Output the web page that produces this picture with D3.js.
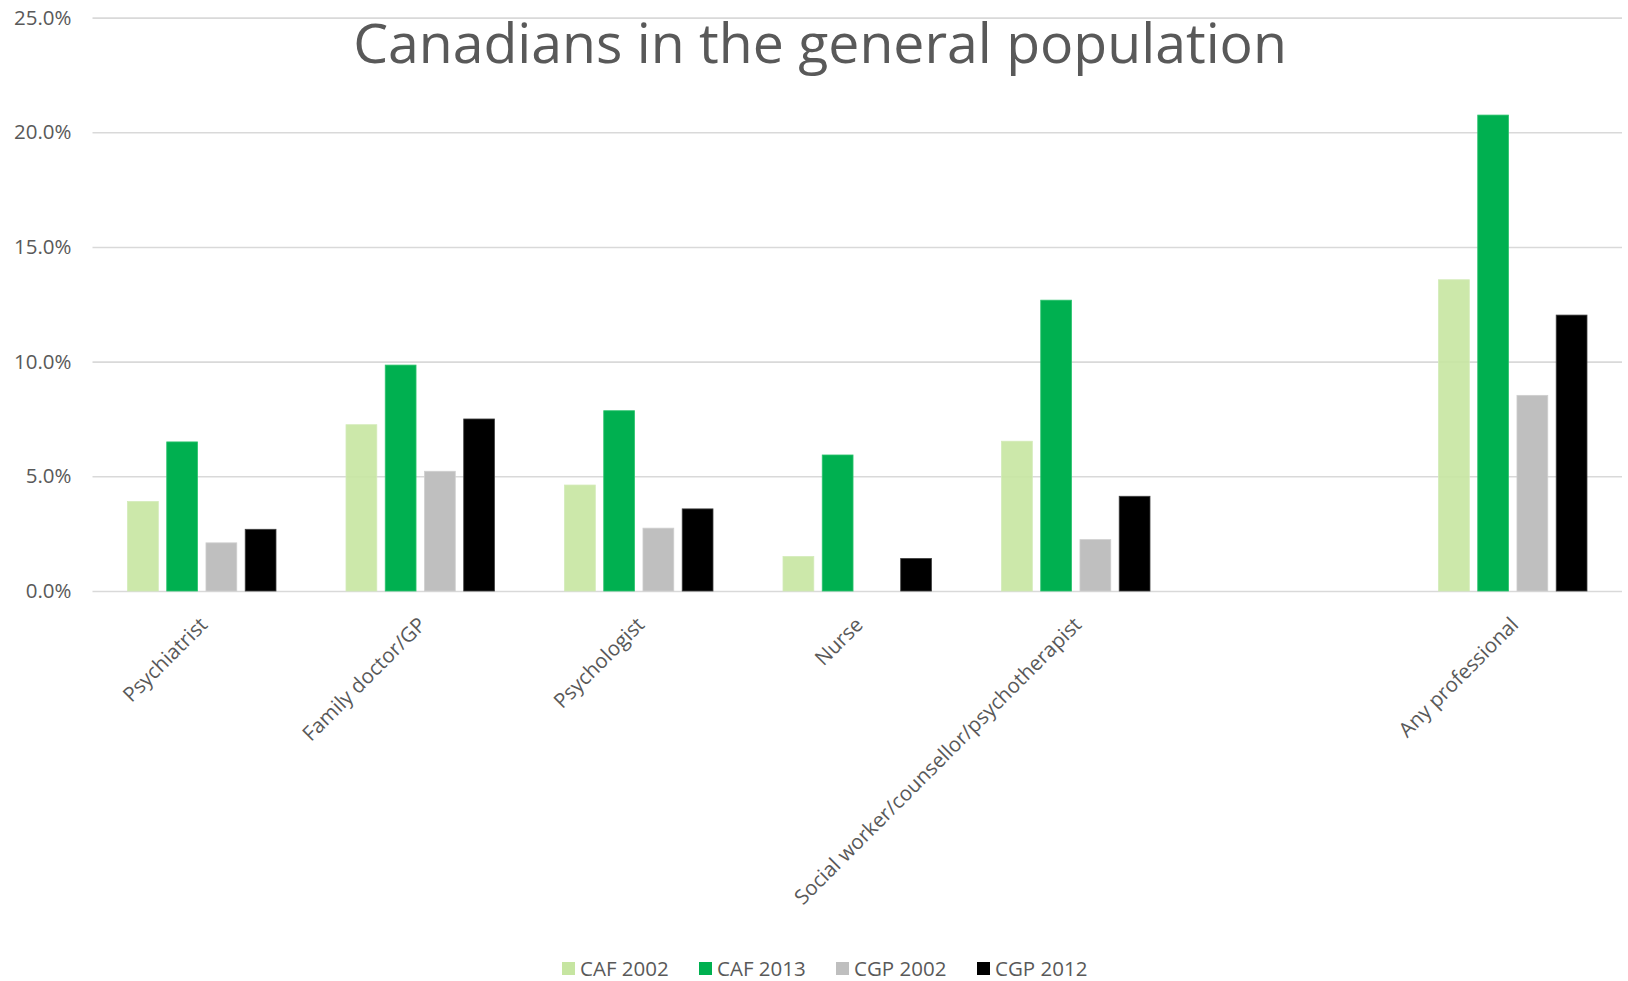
<!DOCTYPE html>
<html>
<head>
<meta charset="utf-8">
<script src="https://cdn.jsdelivr.net/npm/d3@7"></script>
<style>
  html, body { margin: 0; padding: 0; background: #ffffff; }
  svg { display: block; }
  text { font-family: "Open Sans", "Liberation Sans", sans-serif; fill: #595959; }
</style>
</head>
<body>
<svg id="chart" width="1628" height="981"></svg>
<script>
const title = "Canadians in the general population";
const categories = ["Psychiatrist", "Family doctor/GP", "Psychologist", "Nurse",
  "Social worker/counsellor/psychotherapist", "", "Any professional"];
const seriesNames = ["CAF 2002", "CAF 2013", "CGP 2002", "CGP 2012"];
const caf2002 = [3.9, 7.25, 4.62, 1.5, 6.53, null, 13.57];
const caf2013 = [6.5, 9.85, 7.86, 5.93, 12.68, null, 20.75];
const cgp2002 = [2.1, 5.22, 2.74, null, 2.24, null, 8.53];
const cgp2012 = [2.69, 7.5, 3.58, 1.42, 4.13, null, 12.03];
const yTicks = [0, 5, 10, 15, 20, 25];
const colors = ["#c6e5a1", "#00b050", "#bfbfbf", "#000000"];
const strokes = ["#d3ebb8", "#2cc46e", "#cfcfcf", "#404040"];

const seriesValues = [caf2002, caf2013, cgp2002, cgp2012];
const svg = d3.select("#chart");

const plot = { left: 92.5, right: 1622, top: 17.6, bottom: 591 };
const fs = 20.5;

const x0 = d3.scaleBand().domain(categories).range([plot.left, plot.right]).padding(0);
const groupPad = 35;
const x1 = d3.scaleBand().domain(seriesNames)
  .range([groupPad, x0.bandwidth() - groupPad]).paddingInner(0.215).paddingOuter(0);
const y = d3.scaleLinear().domain([0, 25]).range([plot.bottom, plot.top]);

// gridlines
const yAxis = d3.axisLeft(y).tickValues(yTicks)
  .tickFormat(d => d3.format(".1f")(d) + "%")
  .tickSize(-(plot.right - plot.left)).tickPadding(21);
const gy = svg.append("g").attr("transform", `translate(${plot.left},0)`).call(yAxis);
gy.select(".domain").remove();
gy.selectAll(".tick line").attr("stroke", "#d9d9d9").attr("stroke-width", 1.6);
gy.selectAll(".tick text").attr("font-size", fs).style("fill", "#595959")
  .attr("font-family", "'Open Sans', sans-serif");

// bars
seriesNames.forEach((s, si) => {
  const data = categories.map((c, ci) => ({ c, v: seriesValues[si][ci] })).filter(d => d.v != null);
  svg.append("g").selectAll("rect").data(data).join("rect")
    .attr("x", d => x0(d.c) + x1(s))
    .attr("width", x1.bandwidth())
    .attr("y", d => y(d.v))
    .attr("height", d => y(0) - y(d.v))
    .attr("fill", colors[si])
    .attr("fill-opacity", si === 0 ? 0.9 : 1)
    .attr("stroke", strokes[si])
    .attr("stroke-width", 0.8);
});

// category labels
const xAxis = d3.axisBottom(x0).tickSize(0).tickPadding(0);
const gx = svg.append("g").attr("transform", `translate(0,${plot.bottom})`).call(xAxis);
gx.select(".domain").remove();
gx.selectAll(".tick text")
  .attr("font-size", fs).style("fill", "#595959")
  .attr("font-family", "'Open Sans', sans-serif")
  .attr("text-anchor", "end")
  .attr("dy", null).attr("y", 0)
  .attr("transform", "translate(7,35) rotate(-45)");

// title
const t = svg.append("text").attr("x", 820).attr("y", 63)
  .attr("text-anchor", "middle").attr("font-size", 54)
  .style("fill", "#595959").text(title);
const w = t.node().getComputedTextLength();
t.attr("font-size", 54 * 934 / w);

// legend
const legendX = [562, 699, 836, 977];
const lg = svg.append("g");
seriesNames.forEach((s, i) => {
  lg.append("rect").attr("x", legendX[i]).attr("y", 962).attr("width", 13).attr("height", 13)
    .attr("fill", colors[i]);
  lg.append("text").attr("x", legendX[i] + 18).attr("y", 975.5)
    .attr("font-size", fs).style("fill", "#595959").text(s);
});
</script>
</body>
</html>
